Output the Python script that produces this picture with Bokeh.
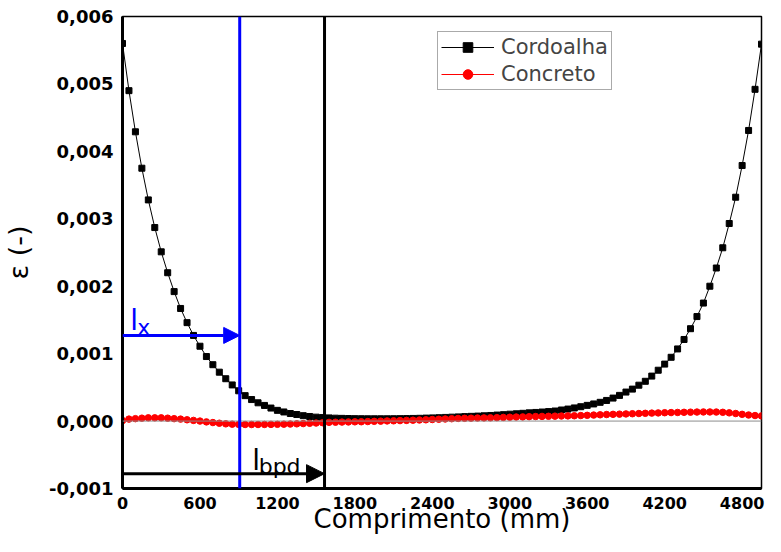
from bokeh.plotting import figure
from bokeh.models import (Range1d, FixedTicker, CustomJSTickFormatter, Span, Arrow,
                          NormalHead, Label, Legend, LegendItem)
from bokeh.embed import file_html
from bokeh.resources import INLINE

# ---------------- data ----------------
x_mm = list(range(0, 5000, 50))

cordoalha = [
    0.00560, 0.00490, 0.00429, 0.00375, 0.00328, 0.00287, 0.00251, 0.00220, 0.00192, 0.00167,
    0.00146, 0.00127, 0.00111, 0.000957, 0.000836, 0.000725, 0.000628, 0.000536, 0.000449, 0.000377,
    0.000319, 0.000271, 0.000232, 0.000193, 0.000159, 0.000135, 0.000112, 0.000097, 0.000080, 0.000068,
    0.000058, 0.000052, 0.000047, 0.000043, 0.000040, 0.000038, 0.000036, 0.000035, 0.000034, 0.000034,
    0.000034, 0.000034, 0.000035, 0.000036, 0.000037, 0.000039, 0.000041, 0.000044, 0.000047, 0.000050,
    0.000054, 0.000058, 0.000062, 0.000066, 0.000070, 0.000074, 0.000078, 0.000083, 0.000089, 0.000095,
    0.000102, 0.000108, 0.000115, 0.000122, 0.000128, 0.000134, 0.000141, 0.000149, 0.000164, 0.000178,
    0.000195, 0.000213, 0.000233, 0.000254, 0.000278, 0.000306, 0.000341, 0.000381, 0.000430, 0.000474,
    0.000532, 0.000590, 0.000667, 0.000754, 0.000845, 0.000946, 0.00107, 0.00121, 0.00137, 0.00155,
    0.00175, 0.00200, 0.00227, 0.00257, 0.00293, 0.00332, 0.00379, 0.00431, 0.00492, 0.00559,
]

concreto = [
    0.000007, 0.000029, 0.000036, 0.000043, 0.000048, 0.000048, 0.000048, 0.000043, 0.000036, 0.000029,
    0.000019, 0.000010, 0.000000, -0.000012, -0.000022, -0.000032, -0.000041, -0.000046, -0.000049, -0.000051,
    -0.000051, -0.000051, -0.000050, -0.000049, -0.000048, -0.000046, -0.000044, -0.000041, -0.000037, -0.000033,
    -0.000029, -0.000024, -0.000019, -0.000017, -0.000015, -0.000013, -0.000011, -0.000010, -0.000007, -0.000004,
    -0.000001, 0.000002, 0.000004, 0.000007, 0.000010, 0.000013, 0.000016, 0.000019, 0.000023, 0.000027,
    0.000031, 0.000035, 0.000039, 0.000041, 0.000043, 0.000045, 0.000047, 0.000048, 0.000051, 0.000054,
    0.000057, 0.000060, 0.000062, 0.000065, 0.000067, 0.000069, 0.000071, 0.000073, 0.000075, 0.000077,
    0.000079, 0.000082, 0.000085, 0.000089, 0.000093, 0.000097, 0.000100, 0.000103, 0.000106, 0.000109,
    0.000112, 0.000115, 0.000118, 0.000121, 0.000124, 0.000126, 0.000128, 0.000130, 0.000132, 0.000134,
    0.000135, 0.000135, 0.000134, 0.000130, 0.000122, 0.000112, 0.000100, 0.000090, 0.000082, 0.000077,
]

x_ticks = [0, 600, 1200, 1800, 2400, 3000, 3600, 4200, 4800]
y_ticks = [-0.001, 0.0, 0.001, 0.002, 0.003, 0.004, 0.005, 0.006]

l_x = 908          # mm, blue vertical line
l_bpd = 1565       # mm, black vertical line
l_x_arrow_y = 0.00127
l_bpd_arrow_y = -0.00078

# ---------------- figure ----------------
p = figure(width=765, height=536, output_backend="svg", toolbar_location=None,
           x_range=Range1d(0, 4950), y_range=Range1d(-0.001, 0.006),
           min_border_left=120, min_border_top=16, min_border_right=4, min_border_bottom=10)
p.grid.visible = False
p.background_fill_color = "white"
p.border_fill_color = "white"
p.outline_line_color = "black"
p.outline_line_width = 1.5

p.xaxis.ticker = FixedTicker(ticks=x_ticks)
p.yaxis.ticker = FixedTicker(ticks=y_ticks)
p.yaxis.formatter = CustomJSTickFormatter(code="return tick.toFixed(3).replace('.', ',');")

for ax in (p.xaxis[0], p.yaxis[0]):
    ax.axis_line_width = 3
    ax.axis_line_color = "black"
    ax.major_tick_line_color = None
    ax.minor_tick_line_color = None
    ax.major_label_text_font = "DejaVu Sans"
    ax.major_label_text_font_style = "bold"
    ax.major_label_text_color = "black"
    ax.axis_label_text_font = "DejaVu Sans"
    ax.axis_label_text_font_style = "normal"
    ax.axis_label_text_color = "black"
p.xaxis.major_label_text_font_size = "16px"
p.yaxis.major_label_text_font_size = "18px"
p.xaxis.major_label_standoff = 2
p.yaxis.major_label_standoff = 3

# axis titles
p.yaxis.axis_label = "\u03b5 (-)"
p.yaxis.axis_label_text_font_size = "27px"
p.yaxis.axis_label_standoff = 12
p.xaxis.axis_label = "Comprimento (mm)"
p.xaxis.axis_label_text_font_size = "26px"
p.xaxis.axis_label_standoff = -8

# zero line
p.add_layout(Span(location=0, dimension="width", line_color="#8c8c8c", line_width=1))

# series
r1l = p.line(x_mm, cordoalha, line_color="black", line_width=1)
r1s = p.scatter(x_mm, cordoalha, marker="square", size=6, fill_color="black", line_color="black")
r2l = p.line(x_mm, concreto, line_color="red", line_width=1)
r2s = p.scatter(x_mm, concreto, marker="circle", size=6.5, fill_color="red", line_color="red")

# vertical lines
p.add_layout(Span(location=l_x, dimension="height", line_color="#0000ff", line_width=3))
p.add_layout(Span(location=l_bpd, dimension="height", line_color="black", line_width=3))

# arrows
p.add_layout(Arrow(x_start=0, y_start=l_x_arrow_y, x_end=l_x, y_end=l_x_arrow_y,
                   line_color="#0000ff", line_width=3,
                   end=NormalHead(size=16, fill_color="#0000ff", line_color="#0000ff")))
p.add_layout(Arrow(x_start=0, y_start=l_bpd_arrow_y, x_end=l_bpd, y_end=l_bpd_arrow_y,
                   line_color="black", line_width=3,
                   end=NormalHead(size=18, fill_color="black", line_color="black")))

# annotation labels
p.add_layout(Label(x=60, y=0.00149, text="l", text_color="#0000ff", text_font="DejaVu Sans",
                   text_font_size="28px", text_baseline="alphabetic"))
p.add_layout(Label(x=115, y=0.00139, text="x", text_color="#0000ff", text_font="DejaVu Sans",
                   text_font_size="22px", text_baseline="alphabetic"))
p.add_layout(Label(x=1005, y=-0.00058, text="l", text_color="black", text_font="DejaVu Sans",
                   text_font_size="28px", text_baseline="alphabetic"))
p.add_layout(Label(x=1055, y=-0.00068, text="bpd", text_color="black", text_font="DejaVu Sans",
                   text_font_size="22px", text_baseline="alphabetic"))

# legend
legend = Legend(items=[LegendItem(label="Cordoalha", renderers=[r1l, r1s]),
                       LegendItem(label="Concreto", renderers=[r2l, r2s])],
                location=(315, 398))
legend.label_text_font = "DejaVu Sans"
legend.label_text_font_size = "21px"
legend.glyph_width = 53
legend.glyph_height = 24
legend.label_height = 24
legend.label_standoff = 7
legend.padding = 3
legend.spacing = 3
legend.margin = 0
legend.border_line_color = "#555555"
legend.border_line_width = 1
legend.background_fill_alpha = 1
p.add_layout(legend)

open("out.html", "w").write(file_html(p, INLINE))
